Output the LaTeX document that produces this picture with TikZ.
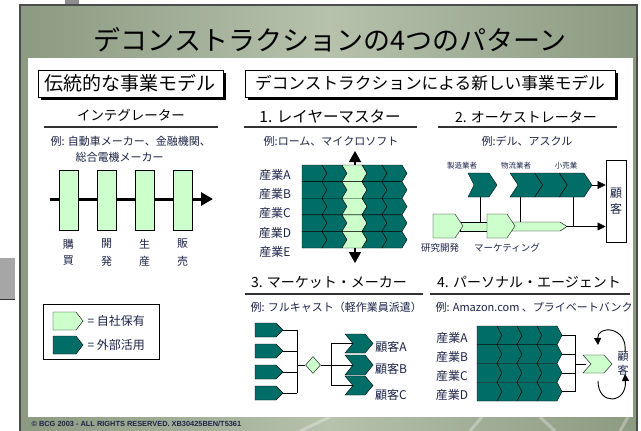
\documentclass[tikz,border=0pt]{standalone}
\usepackage{fontspec}
\setmainfont{Noto Sans CJK JP}
\newfontfamily\copyfont{Liberation Sans}
\usetikzlibrary{arrows.meta,shapes.geometric,shadows}

\definecolor{dkteal}{RGB}{0,110,102}
\definecolor{ltgreen}{RGB}{204,255,204}
\definecolor{inktext}{RGB}{28,36,72}
\definecolor{marbleS}{RGB}{140,154,130}
\definecolor{marbleM}{RGB}{182,194,172}

\newcommand{\jsize}[1]{\fontsize{#1}{#1}\selectfont}
% chevron: fill, back x, tip x, top y, bottom y, tip depth, notch depth
\newcommand{\chev}[7]{\draw[fill=#1] (#2,#4) -- ({#3-#6},#4) -- (#3,{(#4+#5)/2}) -- ({#3-#6},#5) -- (#2,#5) -- ({#2+#7},{(#4+#5)/2}) -- cycle;}

\tikzset{
  hdrbox/.style={draw, fill=white, inner sep=0pt, line width=1pt,
    drop shadow={shadow xshift=3pt, shadow yshift=-3pt, fill=black, opacity=1}},
  subttl/.style={text=black},
  exmpl/.style={font=\jsize{11}, text=inktext},
  lbl/.style={font=\jsize{12}, text=inktext},
  subrule/.style={line width=1.2pt, black!80},
  stagebox/.style={draw, fill=ltgreen, minimum width=19pt, minimum height=60pt, inner sep=0pt},
  blkarrow/.style={-{Triangle[length=8pt,width=8pt]}},
}

\begin{document}
\begin{tikzpicture}[x=1pt, y=-1pt, line join=miter]
\useasboundingbox[fill=white] (0,0) rectangle (641,431);

% stray bits outside the slide
\fill[black!45] (65,0) rectangle (79,4);
\fill[black!35] (0,258) rectangle (15,299);
\draw[black!80] (0,299) -- (15,299);

% slide background
\shade[left color=marbleS, right color=marbleS, middle color=marbleM] (20,5) rectangle (637,431);
\foreach \a/\b in {300/330,470/482,555/540,620/628} \draw[white, opacity=0.3, line width=3pt] (\a,431) -- (\b,417);
\draw[black!70, line width=1.2pt] (20,431) -- (20,5) -- (637,5) -- (637,431);
\node[font=\jsize{27}] (title) at (330,40) {デコンストラクションの4つのパターン};
\fill[white] (28,58) rectangle (633,417);

% headers
\node[hdrbox, minimum width=185pt, minimum height=27pt, font=\jsize{19}] (oldhdr) at (130.5,83.5) {伝統的な事業モデル};
\node[hdrbox, minimum width=370pt, minimum height=27pt, font=\jsize{16.7}] (newhdr) at (430,83.5) {デコンストラクションによる新しい事業モデル};

% traditional model
\node[subttl, font=\jsize{13.5}] (integ) at (131,115) {インテグレーター};
\draw[subrule] (44,127) -- (218,127);
\node[exmpl, anchor=west] (ex0a) at (47,141) {例: 自動車メーカー、金融機関、};
\node[exmpl, anchor=west] (ex0b) at (72,157) {総合電機メーカー};
\coordinate (fs) at (50,199);
\coordinate (fe) at (213,199);
\draw[line width=3pt, -{Triangle[length=12pt,width=13pt]}] (fs) -- (fe);
\foreach \i/\x/\a/\b in {1/68.5/購/買,2/106.5/開/発,3/144.5/生/産,4/182.5/販/売} {
  \node[stagebox] (st\i) at (\x,200) {};
  \node[lbl, font=\jsize{11}] (pa\i) at (\x,244) {\a};
  \node[lbl, font=\jsize{11}] (pb\i) at (\x,261) {\b};
}

% legend
\node[draw, line width=1pt, minimum width=116pt, minimum height=55pt, inner sep=0pt] (legend) at (101,331.5) {};
\chev{ltgreen}{53}{83}{312}{330}{7}{0}
\chev{dkteal}{53}{83}{336}{354}{7}{0}
\node[lbl, anchor=west] (own) at (84,321) {= 自社保有};
\node[lbl, anchor=west] (ext) at (84,345) {= 外部活用};

% 1. layer master
\node[subttl, font=\jsize{15.5}] (lm) at (330,117) {1. レイヤーマスター};
\draw[subrule] (244,127) -- (417,127);
\node[exmpl] (ex1) at (331,141) {例:ローム、マイクロソフト};
\foreach \r/\t in {0/A,1/B,2/C,3/D,4/E} {
  \foreach \c/\col in {0/dkteal,1/dkteal,2/ltgreen,3/dkteal,4/dkteal} {
    \pgfmathsetmacro\xl{302+20*\c}
    \pgfmathsetmacro\xr{\xl+25}
    \pgfmathsetmacro\yt{165+16.6*\r}
    \pgfmathsetmacro\yb{\yt+16.6}
    \pgfmathsetmacro\nd{\c==0 ? 0 : 5}
    \chev{\col}{\xl}{\xr}{\yt}{\yb}{5}{\nd}
  }
  \node[lbl] (ind\t) at (275,{175+19.2*\r}) {産業\t};
}
\coordinate (lmtop) at (355,151);
\coordinate (lmbot) at (355,263);
\draw[line width=1.5pt, -{Triangle[length=11pt,width=12pt]}] (355,165) -- (lmtop);
\draw[line width=1.5pt, -{Triangle[length=11pt,width=12pt]}] (355,248) -- (lmbot);

% 2. orchestrator
\node[subttl, font=\jsize{14}] (orch) at (526,117) {2. オーケストレーター};
\draw[subrule] (438,127) -- (617,127);
\node[exmpl] (ex2) at (527,141) {例:デル、アスクル};
\node[font=\jsize{7.5}, text=inktext] (mfr) at (462,166) {製造業者};
\node[font=\jsize{7.5}, text=inktext] (dist) at (516,166) {物流業者};
\node[font=\jsize{7.5}, text=inktext] (rtl) at (566,166) {小売業};
\chev{dkteal}{468}{497}{173}{197}{8}{6}
\chev{dkteal}{510}{542.7}{173}{197}{8}{8}
\chev{dkteal}{534.7}{567.3}{173}{197}{8}{8}
\chev{dkteal}{559.3}{592}{173}{197}{8}{8}
\coordinate (c4tip) at (592,185);
\node[draw, line width=0.8pt, minimum width=20pt, minimum height=82pt, inner sep=0pt, align=center, font=\jsize{12}, text=inktext] (cust) at (616,201) {顧\\[4pt]客};
\draw[blkarrow] (c4tip) -- (cust.west |- c4tip);
\draw[fill=ltgreen] (460,222) rectangle (490,231);
\draw[fill=ltgreen] (512,222) -- (560,222) -- (567,226.5) -- (560,231) -- (512,231) -- cycle;
\chev{ltgreen}{433}{463}{214}{238}{8}{0}
\chev{ltgreen}{487}{515}{214}{238}{8}{0}
\coordinate (bandtip) at (567,226.5);
\draw[blkarrow] (bandtip) -- (cust.west |- bandtip);
\draw (480,197) -- (480,222);
\draw (520,197) -- (520,222);
\draw (573,197) -- (573,226.5);
\node[font=\jsize{9.5}, text=inktext] (rnd) at (440,248) {研究開発};
\node[font=\jsize{9.5}, text=inktext] (mkt) at (507,248) {マーケティング};

% 3. market maker
\node[subttl, font=\jsize{14}] (mm) at (329,282) {3. マーケット・メーカー};
\draw[subrule] (245,294) -- (423,294);
\node[exmpl, anchor=west] (ex3) at (247,307) {例: フルキャスト（軽作業員派遣）};
\foreach \i/\y in {1/330,2/351,3/372,4/393} {
  \pgfmathsetmacro\yt{\y-7}
  \pgfmathsetmacro\yb{\y+7}
  \coordinate (mk\i) at (283,\y);
  \draw (mk\i) -- (297,\y);
  \chev{dkteal}{255}{283}{\yt}{\yb}{7}{0}
}
\draw (297,330) -- (297,393);
\node[diamond, draw, fill=ltgreen, minimum width=15pt, minimum height=17pt, inner sep=0pt] (hub) at (313,365) {};
\draw (297,365) -- (hub.west);
\draw (hub.east) -- (331,365);
\draw (331,343.5) -- (331,385.5);
\foreach \y in {343.5,365,385.5} \draw (331,\y) -- (353,\y);
\chev{dkteal}{345}{373}{334}{353}{8}{8}
\chev{dkteal}{345}{373}{355}{375}{8}{8}
\chev{dkteal}{345}{373}{376}{395}{8}{8}
\node[lbl] (cuA) at (391,347) {顧客A};
\node[lbl] (cuB) at (391,369) {顧客B};
\node[lbl] (cuC) at (391,395) {顧客C};

% 4. personal agent
\node[subttl, font=\jsize{14}] (pa) at (529,282) {4. パーソナル・エージェント};
\draw[subrule] (430,294) -- (630,294);
\node[exmpl, anchor=west] (ex4) at (432,307) {例: Amazon.com 、プライベートバンク};
\foreach \r/\t in {0/A,1/B,2/C,3/D} {
  \foreach \c in {0,...,3} {
    \pgfmathsetmacro\xl{477+20*\c}
    \pgfmathsetmacro\xr{\xl+25}
    \pgfmathsetmacro\yt{326+18.75*\r}
    \pgfmathsetmacro\yb{\yt+18.75}
    \pgfmathsetmacro\nd{\c==0 ? 0 : 5}
    \chev{dkteal}{\xl}{\xr}{\yt}{\yb}{5}{\nd}
  }
  \pgfmathsetmacro\ym{335.4+18.75*\r}
  \coordinate (pr\t) at (562,\ym);
  \draw (pr\t) -- (575,\ym);
  \node[lbl] (agind\t) at (452,{338+19*\r}) {産業\t};
}
\draw (575,335.4) -- (575,391.6);
\draw (575,364) -- (586,364);
\chev{ltgreen}{583}{612}{355}{373}{8}{8}
\node[font=\jsize{11}, text=inktext, align=center] (agcust) at (623,364) {顧\\[3pt]客};
\coordinate (loopa) at (598,345);
\coordinate (loopb) at (625,374);
\draw[line width=0.9pt, -{Triangle[length=7pt,width=7pt]}] (625,352) .. controls (628,326) and (597,325) .. (loopa);
\draw[line width=0.9pt, -{Triangle[length=7pt,width=7pt]}] (598,381) .. controls (598,406) and (627,404) .. (loopb);

% footer
\node[anchor=west, font=\copyfont\bfseries\fontsize{7.4}{8}\selectfont, text=inktext] (copy) at (28,424) {© BCG 2003 - ALL RIGHTS RESERVED. XB30425BEN/T5361};
\end{tikzpicture}
\end{document}
